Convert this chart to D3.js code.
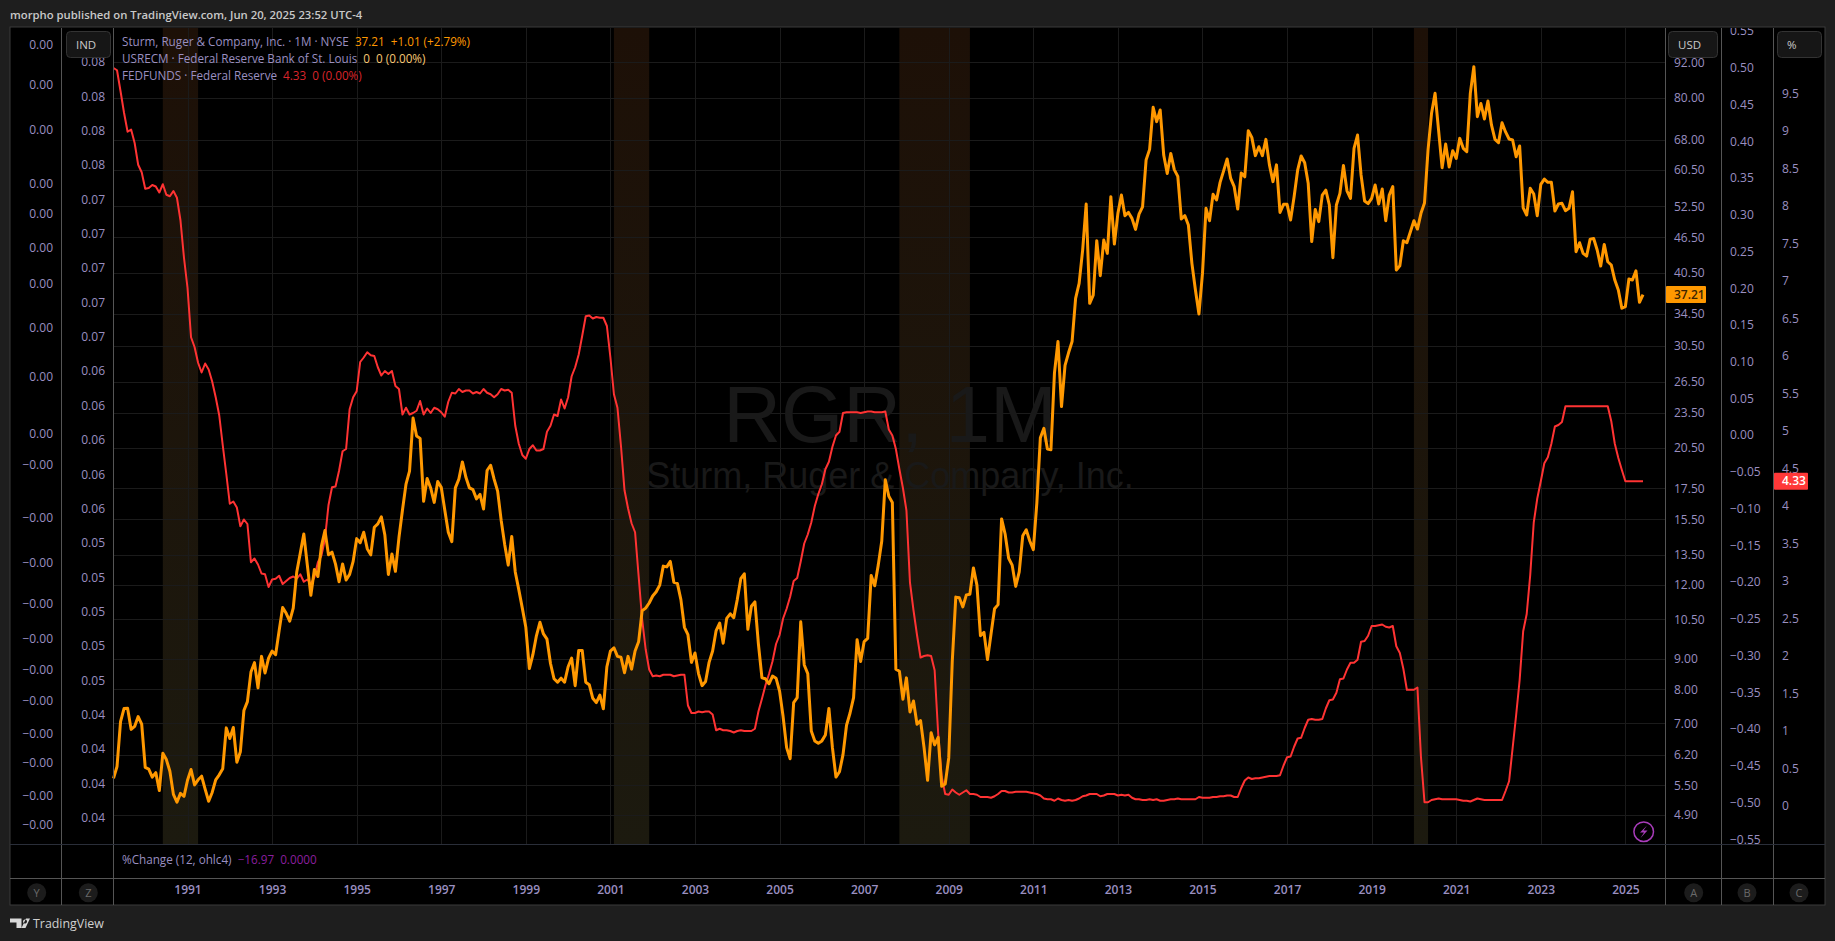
<!DOCTYPE html>
<html lang="en">
<head>
    <meta charset="UTF-8">
    <title>RGR, 1M</title>
    <style>
        html, body {
            margin: 0;
            padding: 0;
            background: #1e1e1e;
            overflow: hidden;
        }

        text {
            font-family: "Open Sans", "DejaVu Sans", sans-serif;
        }

        .tick text {
            fill: #9a8fc0;
            font-size: 12px;
        }

        .domain {
            display: none;
        }
    </style>
</head>

<body>
    <svg id="chart" width="1835" height="941"></svg>
</body>

<script src="https://cdn.jsdelivr.net/npm/d3@7"></script>

<script>
    // RGR monthly close, Apr 1989 to Jun 2025
    const rgrClose = [
        5.65, 5.92, 7.05, 7.42, 7.43, 6.84, 6.92, 7.19, 6.98,
        5.90, 5.86, 5.68, 5.78, 5.39, 6.23, 6.08, 5.81, 5.31, 5.15, 5.33, 5.27,
        5.61, 5.85, 5.51, 5.62, 5.70, 5.42, 5.17, 5.35, 5.62, 5.73, 5.87, 6.88,
        6.60, 6.89, 6.02, 6.27, 7.36, 7.62, 8.55, 8.87, 8.04, 9.09, 8.52, 9.03,
        9.28, 9.15, 10.05, 11.00, 10.75, 10.43, 10.97, 12.63, 13.59, 14.64, 12.97, 11.53,
        12.75, 12.41, 13.97, 14.84, 13.50, 13.64, 13.02, 12.16, 13.03, 12.24, 12.51, 13.16,
        14.38, 14.15, 14.74, 13.83, 13.50, 15.03, 15.23, 15.65, 14.58, 12.51, 13.55, 12.66,
        14.44, 16.08, 17.78, 18.71, 23.00, 21.45, 21.25, 16.63, 18.18, 17.52, 16.56, 17.96,
        17.56, 16.08, 14.74, 14.21, 17.52, 18.13, 19.39, 18.26, 17.52, 17.40, 16.79, 17.08,
        16.14, 18.75, 19.14, 18.13, 17.30, 15.45, 14.06, 12.97, 14.50, 12.63, 11.79, 10.97,
        10.18, 8.67, 9.15, 9.85, 10.38, 9.92, 9.72, 8.84, 8.33, 8.22, 8.35, 8.22,
        8.73, 9.03, 8.11, 9.30, 9.30, 8.22, 8.14, 7.72, 7.59, 7.82, 7.41, 8.73,
        9.28, 9.40, 9.09, 9.06, 8.53, 9.09, 8.65, 9.28, 9.62, 10.86, 10.97, 11.19,
        11.50, 11.69, 12.00, 12.92, 12.88, 13.16, 12.13, 12.08, 11.34, 10.18, 9.89, 8.88,
        9.21, 8.50, 8.11, 8.24, 8.88, 9.28, 10.05, 10.35, 9.57, 10.54, 10.73, 10.57,
        11.34, 12.30, 12.54, 10.10, 11.05, 11.24, 9.53, 8.36, 8.33, 8.17, 8.42, 8.35,
        7.94, 7.19, 6.37, 6.10, 7.59, 7.74, 10.40, 8.79, 8.50, 6.80, 6.54, 6.48,
        6.54, 6.69, 7.42, 6.37, 5.68, 5.80, 6.20, 6.95, 7.29, 7.74, 9.70, 8.91,
        9.63, 9.75, 12.46, 11.97, 12.97, 14.25, 18.09, 16.96, 16.56, 8.65, 8.58, 7.69,
        8.36, 7.32, 7.64, 6.98, 7.08, 6.37, 5.61, 6.75, 6.44, 6.63, 5.48, 5.53,
        6.12, 8.91, 11.45, 11.42, 11.02, 11.55, 11.58, 12.83, 12.00, 9.85, 9.98, 8.98,
        9.92, 10.94, 11.12, 15.53, 14.64, 13.32, 12.97, 11.94, 12.63, 14.54, 14.88, 14.25,
        13.78, 16.52, 21.31, 22.10, 20.38, 20.33, 27.43, 30.99, 24.05, 28.24, 29.66, 30.99,
        36.67, 38.87, 44.26, 52.95, 35.96, 37.14, 45.90, 40.05, 46.02, 43.69, 54.48, 45.31,
        51.06, 54.84, 50.60, 51.25, 50.07, 47.97, 50.92, 52.38, 62.84, 65.51, 77.17, 72.98,
        76.37, 64.08, 59.63, 64.49, 60.55, 58.96, 49.94, 50.60, 48.78, 42.02, 37.87, 34.50,
        40.41, 52.06, 49.62, 54.98, 53.78, 57.61, 60.24, 63.12, 58.50, 56.65, 51.92, 59.75,
        58.87, 70.46, 68.65, 63.93, 66.20, 63.93, 68.12, 61.67, 57.77, 61.67, 51.25, 52.89,
        52.89, 49.76, 54.48, 60.40, 63.85, 62.19, 57.39, 45.74, 51.85, 49.43, 54.84, 55.90,
        52.75, 42.96, 52.75, 55.20, 61.51, 55.75, 54.13, 65.77, 69.27, 59.30, 53.59, 53.04,
        54.13, 57.02, 52.95, 56.14, 49.62, 54.84, 56.65, 40.94, 41.63, 45.90, 45.54, 47.54,
        49.62, 48.03, 51.06, 53.18, 65.34, 75.38, 81.49, 70.57, 60.99, 66.87, 61.15, 65.17,
        63.25, 68.38, 65.77, 64.91, 81.49, 90.41, 74.41, 78.31, 73.74, 79.09, 72.04, 68.12,
        67.24, 72.68, 70.12, 68.21, 67.95, 63.65, 66.37, 52.17, 50.73, 56.29, 55.04, 50.60,
        57.17, 58.35, 57.61, 57.61, 51.52, 52.95, 53.09, 51.59, 52.06, 55.54, 43.97, 45.54,
        43.69, 43.23, 46.18, 46.30, 44.26, 41.58, 45.24, 42.29, 41.75, 39.37, 37.87, 35.28,
        35.51, 39.53, 39.37, 40.81, 36.10, 37.21
    ]

    // FEDFUNDS monthly, same months
    const fedFunds = [
        9.84, 9.81, 9.53, 9.24, 8.99, 9.02, 8.84, 8.55, 8.45,
        8.23, 8.24, 8.28, 8.26, 8.18, 8.29, 8.15, 8.13, 8.20, 8.11, 7.81, 7.31,
        6.91, 6.25, 6.12, 5.91, 5.78, 5.90, 5.82, 5.66, 5.45, 5.21, 4.81, 4.43,
        4.03, 4.06, 3.98, 3.73, 3.82, 3.76, 3.25, 3.30, 3.22, 3.10, 3.09, 2.92,
        3.02, 3.03, 3.07, 2.96, 3.00, 3.04, 3.06, 3.03, 3.09, 2.99, 3.02, 2.96,
        3.05, 3.25, 3.34, 3.56, 4.01, 4.25, 4.26, 4.47, 4.73, 4.76, 5.29, 5.45,
        5.53, 5.92, 5.98, 6.05, 6.01, 6.00, 5.85, 5.74, 5.80, 5.76, 5.80, 5.60,
        5.56, 5.22, 5.31, 5.22, 5.24, 5.27, 5.40, 5.22, 5.30, 5.24, 5.31, 5.29,
        5.25, 5.19, 5.39, 5.51, 5.50, 5.56, 5.52, 5.54, 5.54, 5.50, 5.52, 5.50,
        5.56, 5.51, 5.49, 5.45, 5.49, 5.56, 5.54, 5.55, 5.51, 5.07, 4.83, 4.68,
        4.63, 4.76, 4.81, 4.74, 4.74, 4.76, 4.99, 5.07, 5.22, 5.20, 5.42, 5.30,
        5.45, 5.73, 5.85, 6.02, 6.27, 6.53, 6.54, 6.50, 6.52, 6.51, 6.51, 6.40,
        5.98, 5.49, 5.31, 4.80, 4.21, 3.97, 3.77, 3.65, 3.07, 2.49, 2.09, 1.82,
        1.73, 1.74, 1.73, 1.75, 1.75, 1.75, 1.73, 1.74, 1.75, 1.75, 1.34, 1.24,
        1.24, 1.26, 1.25, 1.26, 1.26, 1.22, 1.01, 1.03, 1.01, 1.01, 1.00, 0.98,
        1.00, 1.01, 1.00, 1.00, 1.00, 1.03, 1.26, 1.43, 1.61, 1.76, 1.93, 2.16,
        2.28, 2.50, 2.63, 2.79, 3.00, 3.04, 3.26, 3.50, 3.62, 3.78, 4.00, 4.16,
        4.29, 4.49, 4.59, 4.79, 4.94, 4.99, 5.24, 5.25, 5.25, 5.25, 5.25, 5.24,
        5.25, 5.26, 5.26, 5.25, 5.25, 5.25, 5.26, 5.02, 4.94, 4.76, 4.49, 4.24,
        3.94, 2.98, 2.61, 2.28, 1.98, 2.00, 2.01, 2.00, 1.81, 0.97, 0.39, 0.16,
        0.15, 0.22, 0.18, 0.15, 0.18, 0.21, 0.16, 0.16, 0.15, 0.12, 0.12, 0.12,
        0.11, 0.13, 0.16, 0.20, 0.20, 0.18, 0.18, 0.19, 0.19, 0.19, 0.19, 0.18,
        0.17, 0.16, 0.14, 0.10, 0.09, 0.09, 0.07, 0.10, 0.08, 0.07, 0.08, 0.07,
        0.08, 0.10, 0.13, 0.14, 0.16, 0.16, 0.16, 0.13, 0.14, 0.16, 0.16, 0.16,
        0.14, 0.15, 0.14, 0.15, 0.11, 0.09, 0.09, 0.08, 0.08, 0.09, 0.08, 0.09,
        0.07, 0.07, 0.08, 0.09, 0.09, 0.10, 0.09, 0.09, 0.09, 0.09, 0.09, 0.12,
        0.11, 0.11, 0.11, 0.12, 0.12, 0.13, 0.13, 0.14, 0.14, 0.12, 0.12, 0.24,
        0.34, 0.38, 0.36, 0.37, 0.37, 0.38, 0.39, 0.40, 0.40, 0.40, 0.41, 0.54,
        0.65, 0.66, 0.79, 0.90, 0.91, 1.04, 1.15, 1.16, 1.15, 1.15, 1.16, 1.30,
        1.41, 1.42, 1.51, 1.69, 1.70, 1.82, 1.91, 1.91, 1.95, 2.19, 2.20, 2.27,
        2.40, 2.40, 2.41, 2.42, 2.39, 2.38, 2.40, 2.13, 2.04, 1.83, 1.55, 1.55,
        1.55, 1.58, 0.65, 0.05, 0.05, 0.08, 0.09, 0.10, 0.09, 0.09, 0.09, 0.09,
        0.09, 0.08, 0.07, 0.07, 0.06, 0.08, 0.10, 0.09, 0.08, 0.08, 0.08, 0.08,
        0.08, 0.08, 0.20, 0.33, 0.77, 1.21, 1.68, 2.33, 2.56, 3.08, 3.78, 4.10,
        4.33, 4.57, 4.65, 4.83, 5.06, 5.08, 5.12, 5.33, 5.33, 5.33, 5.33, 5.33,
        5.33, 5.33, 5.33, 5.33, 5.33, 5.33, 5.33, 5.33, 5.13, 4.83, 4.64, 4.48,
        4.33, 4.33, 4.33, 4.33, 4.33, 4.33
    ]

    // USRECM shaded spells [year, month (0 based)]
    const recessionStarts = [[1990, 5], [2001, 1], [2007, 10], [2020, 0]]
    const recessionEnds = [[1991, 3], [2001, 11], [2009, 6], [2020, 4]]

    const yearTicks = [1991, 1993, 1995, 1997, 1999, 2001, 2003, 2005, 2007, 2009, 2011, 2013, 2015, 2017, 2019, 2021, 2023, 2025]
    const priceTicks = [92, 80, 68, 60.5, 52.5, 46.5, 40.5, 34.5, 30.5, 26.5, 23.5, 20.5, 17.5, 15.5, 13.5, 12, 10.5, 9, 8, 7, 6.2, 5.5, 4.9]
    const changeTicks = [0.55, 0.5, 0.45, 0.4, 0.35, 0.3, 0.25, 0.2, 0.15, 0.1, 0.05, 0, -0.05, -0.1, -0.15, -0.2, -0.25, -0.3, -0.35, -0.4, -0.45, -0.5, -0.55]
    const rateTicks = [9.5, 9, 8.5, 8, 7.5, 7, 6.5, 6, 5.5, 5, 4.5, 4, 3.5, 3, 2.5, 2, 1.5, 1, 0.5, 0]
    const indTicks = [0.082, 0.08, 0.078, 0.076, 0.074, 0.072, 0.07, 0.068, 0.066, 0.064, 0.062, 0.06, 0.058, 0.056, 0.054, 0.052, 0.05, 0.048, 0.046, 0.044, 0.042, 0.04, 0.038]
    const farLeftTicks = [0.00405, 0.00365, 0.0032, 0.00266, 0.00236, 0.00202, 0.00166, 0.00122, 0.00073, 0.00016, -0.00015, -0.00068, -0.00113, -0.00154, -0.00189, -0.0022, -0.00251, -0.00284, -0.00313, -0.00346, -0.00375]

    const months = d3.timeMonth.range(new Date(1989, 3, 1), new Date(2025, 6, 1))

    const svg = d3.select("#chart")

    const plotLeft = 113.5, plotRight = 1665.5, plotTop = 28, plotBottom = 844
    const paneBottom = 878, frameBottom = 905, frameLeft = 10, frameRight = 1825

    let x = d3.scalePoint().domain(months).range([113.5, 1643])
    let yPrice = d3.scaleLog().domain([4.9, 92]).range([815, 62.2])
    let yRate = d3.scaleLinear().domain([0, 9.5]).range([806, 93.5])
    let yChange = d3.scaleLinear().domain([-0.55, 0.55]).range([839.3, 31])
    let yInd = d3.scaleLinear().domain([0.038, 0.082]).range([817.7, 62])
    let yFar = d3.scaleLinear().domain([-0.00375, 0.00405]).range([825, 45])

    function monthOf(p) {
        return new Date(p[0], p[1], 1)
    }

    function signed(digits) {
        return v => (v < 0 ? "\u2212" : "") + Math.abs(v).toFixed(digits)
    }

    let defs = svg.append("defs")
    defs.append("clipPath").attr("id", "paneClip").append("rect")
        .attr("x", 0).attr("y", plotTop).attr("width", 1835).attr("height", plotBottom - plotTop)
    let grad = defs.append("linearGradient").attr("id", "recGrad")
        .attr("x1", 0).attr("x2", 0).attr("y1", 0).attr("y2", 1)
    grad.append("stop").attr("offset", "0%").attr("stop-color", "#1d1007")
    grad.append("stop").attr("offset", "100%").attr("stop-color", "#1c1a0f")

    // frame
    svg.append("rect").attr("x", frameLeft).attr("y", plotTop - 1)
        .attr("width", frameRight - frameLeft).attr("height", frameBottom - plotTop + 1)
        .attr("fill", "#000").attr("stroke", "#3a3a3a").attr("stroke-width", 1)

    // recession bands
    svg.append("g").selectAll("rect")
        .data(recessionStarts.map((s, i) => [monthOf(s), monthOf(recessionEnds[i])]))
        .enter().append("rect")
        .attr("x", d => x(d[0]))
        .attr("width", d => x(d[1]) - x(d[0]))
        .attr("y", plotTop)
        .attr("height", plotBottom - plotTop)
        .attr("fill", "url(#recGrad)")

    // grid
    let grid = svg.append("g").attr("stroke", "#1b1b1b").attr("stroke-width", 1)
    grid.selectAll(".h").data(priceTicks).enter().append("line")
        .attr("x1", plotLeft).attr("x2", plotRight)
        .attr("y1", d => Math.round(yPrice(d)) + 0.5).attr("y2", d => Math.round(yPrice(d)) + 0.5)
    grid.selectAll(".v").data(yearTicks).enter().append("line")
        .attr("x1", d => Math.round(x(new Date(d, 0, 1))) + 0.5).attr("x2", d => Math.round(x(new Date(d, 0, 1))) + 0.5)
        .attr("y1", plotTop).attr("y2", plotBottom)

    // watermark
    let mark = svg.append("g").attr("text-anchor", "middle").attr("fill", "#191919")
    mark.append("text").attr("x", 890).attr("y", 442)
        .style("font-family", "Liberation Sans").style("font-size", "80px").text("RGR, 1M")
    mark.append("text").attr("x", 890).attr("y", 488)
        .style("font-family", "Liberation Sans").style("font-size", "36px").text("Sturm, Ruger & Company, Inc.")

    // series
    let fedLine = d3.line().x((d, i) => x(months[i])).y(d => yRate(d))
    let rgrLine = d3.line().x((d, i) => x(months[i])).y(d => yPrice(d))

    svg.append("path").datum(fedFunds)
        .attr("d", fedLine)
        .attr("fill", "none")
        .attr("stroke", "#ff3333")
        .attr("stroke-width", 2)
        .attr("stroke-linejoin", "round")

    svg.append("path").datum(rgrClose)
        .attr("d", rgrLine)
        .attr("fill", "none")
        .attr("stroke", "#ff9800")
        .attr("stroke-width", 3)
        .attr("stroke-linejoin", "round")

    // pane and column separators
    let seps = svg.append("g").attr("stroke", "#555").attr("stroke-width", 1)
    const columns = [61.5, 113.5, 1665.5, 1721.5, 1773.5]
    seps.selectAll("line").data(columns).enter().append("line")
        .attr("x1", d => d).attr("x2", d => d)
        .attr("y1", plotTop).attr("y2", frameBottom)
    svg.append("line").attr("x1", frameLeft).attr("x2", frameRight)
        .attr("y1", plotBottom + 0.5).attr("y2", plotBottom + 0.5).attr("stroke", "#2a2e39")
    svg.append("line").attr("x1", frameLeft).attr("x2", frameRight)
        .attr("y1", paneBottom + 0.5).attr("y2", paneBottom + 0.5).attr("stroke", "#555")

    // axes
    function addAxis(axis, left) {
        svg.append("g")
            .attr("clip-path", "url(#paneClip)")
            .append("g")
            .attr("transform", `translate(${left},0)`)
            .call(axis)
    }

    addAxis(d3.axisLeft(yFar).tickValues(farLeftTicks).tickFormat(signed(2)).tickSize(0).tickPadding(0), 53)
    addAxis(d3.axisLeft(yInd).tickValues(indTicks).tickFormat(signed(2)).tickSize(0).tickPadding(0), 105)
    addAxis(d3.axisRight(yPrice).tickValues(priceTicks).tickFormat(d3.format(".2f")).tickSize(0).tickPadding(0), 1674)
    addAxis(d3.axisRight(yChange).tickValues(changeTicks).tickFormat(signed(2)).tickSize(0).tickPadding(0), 1730)
    addAxis(d3.axisRight(yRate).tickValues(rateTicks).tickFormat(d => String(d)).tickSize(0).tickPadding(0), 1782)

    let timeAxis = d3.axisBottom(x)
        .tickValues(yearTicks.map(d => new Date(d, 0, 1)))
        .tickFormat(d3.timeFormat("%Y"))
        .tickSize(0).tickPadding(0)
    let timeG = svg.append("g").attr("transform", "translate(0,885)").call(timeAxis)
    timeG.selectAll("text").style("font-weight", 600)

    // last value tags
    function tag(value, y, left, width, fill, color, label) {
        svg.append("rect").attr("x", left).attr("y", y(value) - 8.5)
            .attr("width", width).attr("height", 17).attr("rx", 1).attr("fill", fill)
        svg.append("text").attr("x", left + 8).attr("y", y(value)).attr("dy", "0.35em")
            .attr("fill", color).style("font-size", "12px").style("font-weight", 600).text(label)
    }
    tag(rgrClose[rgrClose.length - 1], yPrice, 1666, 40, "#ff9800", "#3a2400", "37.21")
    tag(fedFunds[fedFunds.length - 1], yRate, 1774, 34, "#ff3838", "#fff", "4.33")

    // scale buttons
    const buttons = [[66, 44, "IND"], [1668, 49, "USD"], [1777, 44, "%"]]
    let btn = svg.append("g").selectAll("g").data(buttons).enter().append("g")
    btn.append("rect").attr("x", d => d[0] + 0.5).attr("y", 31.5)
        .attr("width", d => d[1]).attr("height", 26).attr("rx", 4)
        .attr("fill", "#161616").attr("stroke", "#333")
    btn.append("text").attr("x", d => d[0] + 10).attr("y", 45).attr("dy", "0.35em")
        .attr("fill", "#c9c9c9").style("font-size", "11.5px").style("font-weight", 500).text(d => d[2])

    // corner letters
    const letters = [["Y", 36.7], ["Z", 88.3], ["A", 1693.7], ["B", 1747], ["C", 1799]]
    let let_ = svg.append("g").selectAll("g").data(letters).enter().append("g")
    let_.append("circle").attr("cx", d => d[1]).attr("cy", 892.7).attr("r", 9.5).attr("fill", "#1c1c1c")
    let_.append("text").attr("x", d => d[1]).attr("y", 893).attr("dy", "0.35em").attr("text-anchor", "middle")
        .attr("fill", "#6a6a6a").style("font-size", "11px").text(d => d[0])

    // legend
    function legend(y, parts) {
        let t = svg.append("text").attr("x", 122).attr("y", y).attr("dy", "0.35em").style("font-size", "11.7px")
        parts.forEach(p => t.append("tspan").attr("fill", p[1]).text(p[0]))
    }
    legend(42, [["Sturm, Ruger & Company, Inc. \u00b7 1M \u00b7 NYSE", "#9a8fc0"], ["\u00a0\u00a037.21\u00a0\u00a0+1.01 (+2.79%)", "#ff9800"]])
    legend(59, [["USRECM \u00b7 Federal Reserve Bank of St. Louis", "#9a8fc0"], ["\u00a0\u00a00\u00a0\u00a00 (0.00%)", "#f7c873"]])
    legend(76, [["FEDFUNDS \u00b7 Federal Reserve", "#9a8fc0"], ["\u00a0\u00a04.33\u00a0\u00a00 (0.00%)", "#d9252b"]])
    legend(860, [["%Change (12, ohlc4)", "#9a8fc0"], ["\u00a0\u00a0\u221216.97\u00a0\u00a00.0000", "#8a1f9e"]])

    // bolt badge
    svg.append("circle").attr("cx", 1643.7).attr("cy", 831.7).attr("r", 9.8)
        .attr("fill", "none").attr("stroke", "#a83cba").attr("stroke-width", 1.5)
    svg.append("path").attr("d", "M1647 825.5 L1640 832.5 L1644 832.5 L1640.5 838 L1647.5 830.5 L1643.5 830.5 Z")
        .attr("fill", "#a83cba")

    // header and footer
    svg.append("text").attr("x", 10).attr("y", 15).attr("dy", "0.35em")
        .attr("fill", "#c8c8c8").style("font-size", "11.3px").style("font-weight", 600)
        .text("morpho published on TradingView.com, Jun 20, 2025 23:52 UTC-4")

    svg.append("path").attr("d", "M10 918.5 H21.5 V928 H16.5 V922.5 H10 Z M23 921.5 A2 2 0 1 0 23 921.4 Z M26 918.5 H30 L25.5 928 H21.5 Z")
        .attr("fill", "#d8d8d8")
    svg.append("text").attr("x", 33).attr("y", 923.5).attr("dy", "0.35em")
        .attr("fill", "#d0d0d0").style("font-size", "12.4px").text("TradingView")
</script>

</html>
